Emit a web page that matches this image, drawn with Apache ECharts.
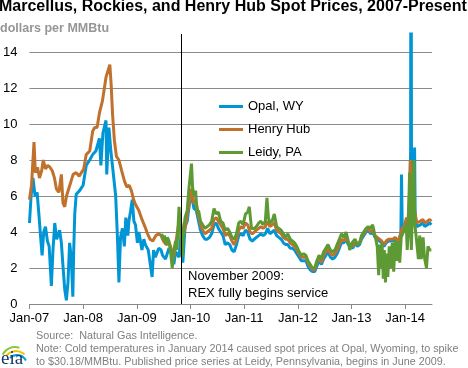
<!DOCTYPE html>
<html>
<head>
<meta charset="utf-8">
<script src="https://cdn.jsdelivr.net/npm/echarts@6/dist/echarts.min.js"></script>
<style>
html,body{margin:0;padding:0;background:#fff;}
#chart{width:468px;height:368px;}
</style>
</head>
<body>
<div id="chart"></div>
<script>
// ---- data ----
const yearTicks = [2007, 2008, 2009, 2010, 2011, 2012, 2013, 2014];
const annotationDate = '2009-11-01';

const opalDates = ['2007-01-01','2007-01-12','2007-01-25','2007-02-08','2007-02-22','2007-03-08','2007-03-18','2007-03-28','2007-04-08','2007-04-20','2007-05-03','2007-05-15','2007-05-30','2007-06-10','2007-06-22','2007-07-05','2007-07-25','2007-08-06','2007-08-17','2007-08-29','2007-09-09','2007-09-20','2007-10-01','2007-10-12','2007-10-23','2007-10-29','2007-11-05','2007-11-15','2007-12-08',
'2008-01-01','2008-01-22','2008-02-15','2008-03-06','2008-03-28','2008-04-21','2008-05-01','2008-05-15','2008-06-05','2008-06-10','2008-06-25','2008-07-08','2008-07-20','2008-08-10','2008-08-22','2008-09-01','2008-09-12','2008-09-25','2008-10-08','2008-10-18','2008-11-01','2008-11-08','2008-11-20','2008-12-01','2008-12-12','2008-12-23',
'2009-01-05','2009-01-15','2009-02-05','2009-02-18','2009-02-28','2009-03-20','2009-04-01','2009-04-15','2009-04-25','2009-05-07','2009-05-30','2009-06-15','2009-06-25','2009-07-15','2009-08-08','2009-08-30','2009-09-10','2009-09-22','2009-10-15','2009-10-28','2009-11-10','2009-11-25','2009-12-10','2009-12-25',
'2010-01-08','2010-01-25','2010-02-10','2010-02-25','2010-03-10','2010-03-25','2010-04-10','2010-04-25','2010-05-10','2010-05-25','2010-06-10','2010-06-25','2010-07-10','2010-07-25','2010-08-10','2010-08-25','2010-09-10','2010-09-25','2010-10-10','2010-10-25','2010-11-10','2010-11-25','2010-12-10','2010-12-25',
'2011-01-10','2011-01-25','2011-02-10','2011-02-25','2011-03-10','2011-03-25','2011-04-10','2011-04-25','2011-05-10','2011-05-25','2011-06-10','2011-06-25','2011-07-10','2011-07-25','2011-08-10','2011-08-25','2011-09-10','2011-09-25','2011-10-10','2011-10-25','2011-11-10','2011-11-25','2011-12-10','2011-12-25',
'2012-01-10','2012-01-25','2012-02-10','2012-02-25','2012-03-10','2012-03-25','2012-04-10','2012-04-25','2012-05-10','2012-05-25','2012-06-10','2012-06-25','2012-07-10','2012-07-25','2012-08-10','2012-08-25','2012-09-10','2012-09-25','2012-10-10','2012-10-25','2012-11-10','2012-11-25','2012-12-10','2012-12-25',
'2013-01-10','2013-01-25','2013-02-10','2013-02-25','2013-03-10','2013-03-25','2013-04-10','2013-04-25','2013-05-10','2013-05-25','2013-06-10','2013-06-25','2013-07-10','2013-07-25','2013-08-10','2013-08-25','2013-09-10','2013-09-25','2013-10-10','2013-10-25','2013-11-10','2013-11-25','2013-12-03','2013-12-07','2013-12-12','2013-12-25',
'2014-01-01','2014-01-10','2014-01-20','2014-02-01','2014-02-07','2014-02-10','2014-02-13','2014-02-20','2014-03-01','2014-03-06','2014-03-10','2014-03-20','2014-04-01','2014-04-15','2014-05-01','2014-05-15','2014-06-01','2014-06-17','2014-06-28'];
const opalValues = [4.5,6.0,7.0,6.0,6.2,4.8,3.7,2.7,4.0,4.3,3.5,3.2,1.0,3.0,4.5,3.6,4.1,3.4,2.1,0.8,0.2,1.2,3.4,2.6,0.4,3.0,5.0,6.1,6.3,
6.6,7.7,8.0,8.3,8.5,9.2,7.7,9.5,10.2,7.2,9.8,8.5,7.6,6.0,3.7,1.2,3.7,4.2,3.2,4.8,3.8,4.6,5.2,5.8,4.6,4.4,
3.4,4.0,3.0,3.6,3.3,3.0,2.3,1.5,3.0,2.6,3.1,3.0,2.7,2.5,3.1,2.8,2.2,2.9,2.6,3.8,2.3,4.3,4.6,5.6,
6.0,5.3,5.2,4.6,4.1,3.8,3.6,3.6,3.7,3.9,4.4,4.5,4.2,4.0,3.8,3.3,3.4,3.3,3.0,2.9,3.3,3.8,3.9,3.8,
4.1,4.0,3.6,3.5,3.5,3.7,3.8,3.9,3.8,3.9,4.2,3.9,4.0,4.1,3.8,3.7,3.6,3.4,3.3,3.3,3.1,3.1,3.0,2.8,
2.6,2.4,2.4,2.4,2.1,1.9,1.8,1.8,2.1,2.4,2.2,2.5,2.7,2.9,2.6,2.5,2.6,2.8,3.1,3.4,3.4,3.6,3.3,3.2,
3.1,3.4,3.2,3.3,3.6,3.8,4.0,4.1,3.9,4.0,3.7,3.6,3.5,3.4,3.2,3.4,3.5,3.5,3.5,3.6,3.5,3.7,4.0,7.2,4.3,4.2,
4.2,4.6,4.3,5.8,8.5,30.18,8.0,5.6,4.8,8.7,5.0,4.3,4.3,4.4,4.5,4.3,4.4,4.5,4.4];

const henryHubDates = ['2007-01-01','2007-01-15','2007-02-01','2007-02-10','2007-02-25','2007-03-10','2007-03-25','2007-04-05','2007-04-20','2007-05-05','2007-05-20','2007-06-05','2007-06-20','2007-07-03','2007-07-20','2007-08-06','2007-08-17','2007-08-29','2007-09-10','2007-09-25','2007-10-10','2007-10-25','2007-11-15','2007-12-05','2007-12-20',
'2008-01-05','2008-01-22','2008-02-15','2008-03-06','2008-03-20','2008-04-05','2008-04-21','2008-05-12','2008-05-25','2008-06-05','2008-06-20','2008-07-01','2008-07-10','2008-07-20','2008-08-01','2008-08-15','2008-09-01','2008-09-20','2008-10-10','2008-10-25','2008-11-10','2008-11-25','2008-12-10','2008-12-25',
'2009-01-15','2009-02-05','2009-02-25','2009-03-15','2009-04-01','2009-04-20','2009-05-10','2009-05-30','2009-06-15','2009-07-01','2009-07-20','2009-08-10','2009-08-30','2009-09-10','2009-09-25','2009-10-10','2009-10-25','2009-11-10','2009-11-25','2009-12-10','2009-12-25',
'2010-01-08','2010-01-25','2010-02-10','2010-02-25','2010-03-10','2010-03-25','2010-04-10','2010-04-25','2010-05-10','2010-05-25','2010-06-10','2010-06-25','2010-07-10','2010-07-25','2010-08-10','2010-08-25','2010-09-10','2010-09-25','2010-10-10','2010-10-25','2010-11-10','2010-11-25','2010-12-10','2010-12-25',
'2011-01-10','2011-01-25','2011-02-10','2011-02-25','2011-03-10','2011-03-25','2011-04-10','2011-04-25','2011-05-10','2011-05-25','2011-06-10','2011-06-25','2011-07-10','2011-07-25','2011-08-10','2011-08-25','2011-09-10','2011-09-25','2011-10-10','2011-10-25','2011-11-10','2011-11-25','2011-12-10','2011-12-25',
'2012-01-10','2012-01-25','2012-02-10','2012-02-25','2012-03-10','2012-03-25','2012-04-10','2012-04-25','2012-05-10','2012-05-25','2012-06-10','2012-06-25','2012-07-10','2012-07-25','2012-08-10','2012-08-25','2012-09-10','2012-09-25','2012-10-10','2012-10-25','2012-11-10','2012-11-25','2012-12-10','2012-12-25',
'2013-01-10','2013-01-25','2013-02-10','2013-02-25','2013-03-10','2013-03-25','2013-04-10','2013-04-25','2013-05-10','2013-05-25','2013-06-10','2013-06-25','2013-07-10','2013-07-25','2013-08-10','2013-08-25','2013-09-10','2013-09-25','2013-10-10','2013-10-25','2013-11-10','2013-11-25','2013-12-10','2013-12-25',
'2014-01-01','2014-01-10','2014-01-20','2014-02-01','2014-02-05','2014-02-12','2014-02-20','2014-03-01','2014-03-07','2014-03-20','2014-04-01','2014-04-15','2014-05-01','2014-05-15','2014-06-01','2014-06-17','2014-06-28'];
const henryHubValues = [5.8,6.6,9.0,7.3,7.6,7.0,7.4,8.0,7.5,7.7,7.6,7.4,7.0,6.4,6.2,7.2,5.6,5.4,6.0,6.4,6.8,7.2,7.3,7.1,7.3,
7.5,8.3,8.5,9.6,9.8,9.8,10.6,11.3,12.0,12.6,13.0,13.3,12.2,10.5,9.1,8.2,8.0,7.4,6.8,6.5,6.6,6.3,5.8,5.5,
5.2,4.7,4.3,3.9,3.6,3.5,3.8,3.9,3.8,3.5,3.3,3.4,2.9,2.6,3.5,4.3,4.6,3.8,4.2,5.0,5.6,
6.4,5.6,5.6,4.9,4.4,4.1,3.9,4.0,4.1,4.2,4.7,4.8,4.6,4.4,4.2,3.8,3.9,3.8,3.5,3.3,3.6,4.1,4.3,4.2,
4.5,4.4,4.0,3.9,3.9,4.1,4.2,4.3,4.2,4.3,4.6,4.3,4.4,4.5,4.1,4.0,3.9,3.7,3.6,3.6,3.4,3.3,3.2,3.0,
2.8,2.6,2.6,2.6,2.3,2.1,1.9,1.9,2.3,2.6,2.3,2.7,2.9,3.1,2.8,2.7,2.8,3.0,3.3,3.6,3.5,3.7,3.4,3.3,
3.2,3.5,3.3,3.4,3.7,3.9,4.1,4.2,4.0,4.1,3.8,3.7,3.6,3.5,3.3,3.5,3.6,3.6,3.6,3.7,3.5,3.7,4.2,4.3,
4.3,4.8,4.5,6.5,8.0,5.8,6.0,5.0,5.2,4.5,4.4,4.6,4.7,4.5,4.6,4.7,4.6];

const leidyDates = ['2009-06-20','2009-06-28','2009-07-08','2009-07-18','2009-07-28','2009-08-08','2009-08-20','2009-08-30','2009-09-10','2009-09-22','2009-10-01','2009-10-15','2009-10-25','2009-11-05','2009-11-15','2009-11-25','2009-12-10','2009-12-20',
'2010-01-08','2010-01-15','2010-01-25','2010-02-05','2010-02-15','2010-02-25','2010-03-10','2010-03-25','2010-04-10','2010-04-25','2010-05-10','2010-05-25','2010-06-10','2010-06-25','2010-07-10','2010-07-25','2010-08-10','2010-08-25','2010-09-10','2010-09-25','2010-10-10','2010-10-25','2010-11-10','2010-11-25','2010-12-10','2010-12-25',
'2011-01-10','2011-01-25','2011-02-05','2011-02-20','2011-03-10','2011-03-25','2011-04-10','2011-04-25','2011-05-10','2011-05-25','2011-06-05','2011-06-15','2011-06-25','2011-07-10','2011-07-25','2011-08-10','2011-08-25','2011-09-10','2011-09-25','2011-10-10','2011-10-25','2011-11-10','2011-11-25','2011-12-10','2011-12-25',
'2012-01-10','2012-01-25','2012-02-10','2012-02-25','2012-03-10','2012-03-25','2012-04-10','2012-04-25','2012-05-10','2012-05-25','2012-06-10','2012-06-25','2012-07-10','2012-07-25','2012-08-10','2012-08-25','2012-09-10','2012-09-25','2012-10-10','2012-10-25','2012-11-10','2012-11-25','2012-12-10','2012-12-20',
'2013-01-05','2013-01-25','2013-02-10','2013-02-25','2013-03-10','2013-03-25','2013-04-10','2013-04-25','2013-05-10','2013-05-25','2013-06-05','2013-06-15','2013-06-25','2013-07-05','2013-07-12','2013-07-20','2013-07-28','2013-08-05','2013-08-12','2013-08-20','2013-08-28','2013-09-05','2013-09-15','2013-09-25','2013-10-05','2013-10-15','2013-10-25','2013-11-05','2013-11-15','2013-11-25','2013-12-05','2013-12-15','2013-12-25',
'2014-01-01','2014-01-08','2014-01-15','2014-01-22','2014-01-31','2014-02-06','2014-02-12','2014-02-20','2014-03-01','2014-03-07','2014-03-20','2014-04-01','2014-04-10','2014-04-20','2014-05-03','2014-05-12','2014-05-26','2014-06-05','2014-06-17','2014-06-28'];
const leidyValues = [3.9,3.6,3.8,3.3,3.7,3.5,2.8,2.0,3.0,3.5,3.0,5.4,4.2,2.6,4.0,4.8,5.2,6.3,
7.8,6.5,6.0,6.3,5.0,5.2,4.6,4.4,4.2,4.3,4.4,4.6,5.3,5.0,5.1,4.6,4.5,4.1,4.2,4.0,3.7,3.6,3.9,4.5,4.6,4.4,
5.0,5.1,5.4,4.2,4.2,4.3,4.5,4.6,4.4,4.6,5.9,4.8,4.5,4.6,5.0,4.3,4.2,4.1,3.9,3.7,3.9,3.6,3.5,3.4,3.2,
2.9,2.7,2.8,2.7,2.4,2.2,2.0,2.0,2.4,2.7,2.5,2.9,3.1,3.3,3.0,2.9,3.0,3.3,3.6,3.9,3.7,4.0,3.5,3.0,
3.4,3.6,3.3,3.4,3.8,4.0,4.2,4.3,4.2,4.4,4.5,3.6,3.2,1.6,3.3,2.0,3.4,1.4,3.0,1.2,2.8,1.5,3.2,2.0,3.4,1.8,3.5,2.4,3.5,2.3,3.7,3.9,4.2,
4.0,4.5,3.0,4.0,7.3,5.0,3.0,5.5,8.0,4.5,3.5,2.5,3.8,2.5,3.7,2.6,2.0,3.2,3.0,3.0];

// ---- helpers ----
function toYear(s) {
  const p = s.split('-').map(Number);
  const start = Date.UTC(p[0], 0, 1), end = Date.UTC(p[0] + 1, 0, 1);
  return p[0] + (Date.UTC(p[0], p[1] - 1, p[2]) - start) / (end - start);
}
function pairs(dates, vals) { return dates.map((d, i) => [toYear(d), vals[i]]); }

const FONT = '"Liberation Sans", Arial, sans-serif';
const chart = echarts.init(document.getElementById('chart'), null, {renderer: 'canvas'});

chart.setOption({
  animation: false,
  backgroundColor: '#fff',
  title: [
    {text: 'Marcellus, Rockies, and Henry Hub Spot Prices, 2007-Present',
      left: -1, top: -1, padding: 0,
      textStyle: {fontFamily: FONT, fontSize: 16, fontWeight: 'bold', color: '#000'}},
    {text: 'dollars per MMBtu', left: 0, top: 22, padding: 0,
      textStyle: {fontFamily: FONT, fontSize: 12.5, fontWeight: 'bold', color: '#969696'}}
  ],
  legend: {
    orient: 'vertical', left: 214, top: 95, itemGap: 10,
    itemWidth: 24, itemHeight: 3, icon: 'rect',
    textStyle: {fontFamily: FONT, fontSize: 13, color: '#000'},
    data: ['Opal, WY', 'Henry Hub', 'Leidy, PA']
  },
  grid: {left: 25.7, right: 36, top: 34, bottom: 64, containLabel: false},
  xAxis: {
    type: 'value', min: 2007, max: 2014.5,
    axisLine: {show: true, lineStyle: {color: '#888', width: 1}},
    axisTick: {show: true, length: 5, inside: false, customValues: yearTicks, lineStyle: {color: '#888'}},
    axisLabel: {customValues: yearTicks, fontFamily: FONT, fontSize: 13, color: '#000', margin: 8,
      formatter: v => 'Jan-' + String(Math.round(v)).slice(2)},
    splitLine: {show: false}
  },
  yAxis: {
    type: 'value', min: 0, max: 15, interval: 2,
    axisLine: {show: false}, axisTick: {show: false},
    axisLabel: {fontFamily: FONT, fontSize: 13, color: '#000', margin: 12, showMaxLabel: false},
    splitLine: {show: true, showMaxLine: false, lineStyle: {color: '#8a8a8a', width: 1}}
  },
  series: [
    {name: 'Opal, WY', type: 'line', data: pairs(opalDates, opalValues), showSymbol: false, symbol: 'none',
      lineStyle: {color: '#0096D6', width: 3}, itemStyle: {color: '#0096D6'}, clip: true,
      markLine: {silent: true, symbol: 'none', label: {show: false},
        lineStyle: {color: '#000', width: 1, type: 'solid'},
        data: [{xAxis: toYear(annotationDate)}]}},
    {name: 'Henry Hub', type: 'line', data: pairs(henryHubDates, henryHubValues), showSymbol: false, symbol: 'none',
      lineStyle: {color: '#C0712C', width: 3}, itemStyle: {color: '#C0712C'}, clip: true},
    {name: 'Leidy, PA', type: 'line', data: pairs(leidyDates, leidyValues), showSymbol: false, symbol: 'none',
      lineStyle: {color: '#5E9A33', width: 3}, itemStyle: {color: '#5E9A33'}, clip: true}
  ],
  graphic: [
    {type: 'text', left: 188, top: 268, style: {text: 'November 2009:\nREX fully begins service', fontFamily: FONT, fontSize: 13, lineHeight: 17, fill: '#000'}},
    {type: 'text', left: 36, top: 330, style: {text: 'Source:  Natural Gas Intelligence.\nNote: Cold temperatures in January 2014 caused spot prices at Opal, Wyoming, to spike\nto $30.18/MMBtu. Published price series at Leidy, Pennsylvania, begins in June 2009.', fontFamily: FONT, fontSize: 10.8, lineHeight: 13, fill: '#7f7f7f'}},
    {type: 'arc', shape: {cx: 15, cy: 361, r: 14, startAngle: Math.PI * 1.15, endAngle: Math.PI * 1.6}, style: {stroke: '#8cc63f', lineWidth: 2, fill: null}},
    {type: 'arc', shape: {cx: 16, cy: 363, r: 12, startAngle: Math.PI * 1.2, endAngle: Math.PI * 1.75}, style: {stroke: '#f2c200', lineWidth: 2, fill: null}},
    {type: 'arc', shape: {cx: 17, cy: 365, r: 10, startAngle: Math.PI * 1.25, endAngle: Math.PI * 1.85}, style: {stroke: '#00a0dc', lineWidth: 2, fill: null}},
    {type: 'text', left: 1, top: 350, style: {text: 'eia', fontFamily: '"Liberation Serif", "DejaVu Serif", serif', fontSize: 19, fill: '#1b3764'}}
  ]
});
</script>
</body>
</html>
